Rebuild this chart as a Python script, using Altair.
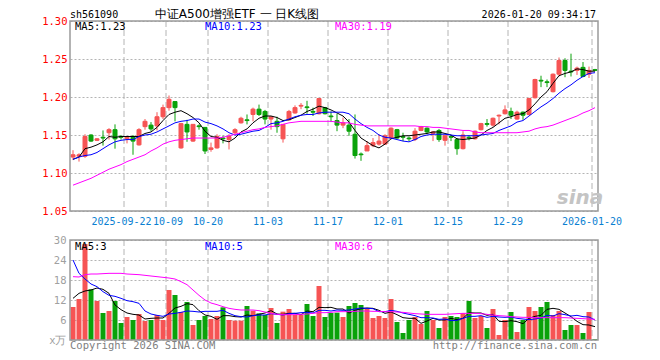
import altair as alt
import pandas as pd

# ---------------- data ----------------
DATES = [
    "2025-09-09", "2025-09-10", "2025-09-11", "2025-09-12", "2025-09-15", "2025-09-16", "2025-09-17", "2025-09-18", "2025-09-19",
    "2025-09-22", "2025-09-23", "2025-09-24", "2025-09-25", "2025-09-26", "2025-09-29", "2025-09-30",
    "2025-10-09", "2025-10-10", "2025-10-13", "2025-10-14", "2025-10-15", "2025-10-16", "2025-10-17",
    "2025-10-20", "2025-10-21", "2025-10-22", "2025-10-23", "2025-10-24",
    "2025-10-27", "2025-10-28", "2025-10-29", "2025-10-30", "2025-10-31",
    "2025-11-03", "2025-11-04", "2025-11-05", "2025-11-06", "2025-11-07",
    "2025-11-10", "2025-11-11", "2025-11-12", "2025-11-13", "2025-11-14",
    "2025-11-17", "2025-11-18", "2025-11-19", "2025-11-20", "2025-11-21",
    "2025-11-24", "2025-11-25", "2025-11-26", "2025-11-27", "2025-11-28",
    "2025-12-01", "2025-12-02", "2025-12-03", "2025-12-04", "2025-12-05",
    "2025-12-08", "2025-12-09", "2025-12-10", "2025-12-11", "2025-12-12",
    "2025-12-15", "2025-12-16", "2025-12-17", "2025-12-18", "2025-12-19",
    "2025-12-22", "2025-12-23", "2025-12-24", "2025-12-25", "2025-12-26",
    "2025-12-29", "2025-12-30", "2025-12-31",
    "2026-01-05", "2026-01-06", "2026-01-07", "2026-01-08", "2026-01-09",
    "2026-01-12", "2026-01-13", "2026-01-14", "2026-01-15", "2026-01-16",
    "2026-01-19", "2026-01-20",
]

OPEN = [1.121, 1.122, 1.122, 1.150, 1.143, 1.147, 1.153, 1.157, 1.148, 1.145,
        1.147, 1.137, 1.161, 1.163, 1.162, 1.174, 1.186, 1.194, 1.133, 1.164,
        1.142, 1.162, 1.160, 1.131, 1.133, 1.146, 1.144, 1.153, 1.166, 1.170,
        1.177, 1.184, 1.181, 1.171, 1.168, 1.145, 1.170, 1.179, 1.188, 1.187,
        1.181, 1.178, 1.186, 1.175, 1.169, 1.163, 1.163, 1.151, 1.125, 1.129,
        1.136, 1.138, 1.138, 1.146, 1.157, 1.148, 1.146, 1.144, 1.156, 1.159,
        1.152, 1.156, 1.143, 1.148, 1.144, 1.132, 1.147, 1.145, 1.157, 1.165,
        1.163, 1.175, 1.178, 1.181, 1.171, 1.180, 1.177, 1.199, 1.222, 1.220,
        1.207, 1.230, 1.248, 1.234, 1.235, 1.239, 1.230, 1.236]
HIGH = [1.130, 1.126, 1.151, 1.151, 1.146, 1.156, 1.159, 1.164, 1.150, 1.148,
        1.150, 1.159, 1.171, 1.167, 1.180, 1.190, 1.202, 1.194, 1.166, 1.170,
        1.164, 1.164, 1.160, 1.140, 1.151, 1.149, 1.151, 1.159, 1.174, 1.177,
        1.186, 1.190, 1.183, 1.174, 1.174, 1.164, 1.183, 1.189, 1.192, 1.195,
        1.186, 1.198, 1.187, 1.181, 1.178, 1.173, 1.171, 1.177, 1.127, 1.142,
        1.146, 1.151, 1.151, 1.160, 1.158, 1.153, 1.148, 1.159, 1.162, 1.160,
        1.155, 1.158, 1.150, 1.150, 1.146, 1.155, 1.150, 1.156, 1.166, 1.171,
        1.173, 1.177, 1.189, 1.186, 1.182, 1.181, 1.199, 1.224, 1.228, 1.223,
        1.231, 1.252, 1.251, 1.257, 1.240, 1.246, 1.240, 1.237]
LOW = [1.117, 1.115, 1.120, 1.141, 1.142, 1.136, 1.144, 1.132, 1.144, 1.139,
       1.124, 1.136, 1.157, 1.155, 1.156, 1.171, 1.182, 1.168, 1.132, 1.141,
       1.141, 1.157, 1.125, 1.128, 1.132, 1.139, 1.131, 1.151, 1.165, 1.164,
       1.168, 1.175, 1.164, 1.157, 1.153, 1.140, 1.169, 1.178, 1.184, 1.178,
       1.175, 1.177, 1.177, 1.167, 1.155, 1.159, 1.149, 1.119, 1.116, 1.129,
       1.134, 1.136, 1.137, 1.145, 1.145, 1.142, 1.142, 1.142, 1.155, 1.152,
       1.142, 1.141, 1.136, 1.142, 1.124, 1.131, 1.143, 1.144, 1.156, 1.161,
       1.161, 1.164, 1.177, 1.171, 1.170, 1.170, 1.176, 1.198, 1.213, 1.213,
       1.206, 1.227, 1.226, 1.227, 1.229, 1.226, 1.225, 1.234]
CLOSE = [1.124, 1.124, 1.148, 1.142, 1.145, 1.146, 1.157, 1.145, 1.147, 1.147,
         1.142, 1.157, 1.168, 1.158, 1.174, 1.186, 1.197, 1.186, 1.165, 1.154,
         1.164, 1.161, 1.129, 1.133, 1.148, 1.145, 1.148, 1.157, 1.172, 1.169,
         1.184, 1.177, 1.171, 1.174, 1.161, 1.164, 1.181, 1.186, 1.189, 1.186,
         1.180, 1.198, 1.178, 1.174, 1.163, 1.166, 1.155, 1.123, 1.124, 1.136,
         1.140, 1.142, 1.149, 1.159, 1.146, 1.147, 1.145, 1.155, 1.161, 1.154,
         1.154, 1.144, 1.149, 1.147, 1.132, 1.150, 1.146, 1.155, 1.165, 1.164,
         1.172, 1.176, 1.183, 1.176, 1.180, 1.176, 1.198, 1.223, 1.221, 1.219,
         1.230, 1.248, 1.235, 1.233, 1.238, 1.227, 1.235, 1.235]

MA5 = [1.118, 1.121, 1.132, 1.134, 1.137, 1.141, 1.148, 1.147, 1.148, 1.148,
       1.148, 1.148, 1.152, 1.154, 1.160, 1.169, 1.177, 1.180, 1.182, 1.178,
       1.173, 1.166, 1.155, 1.148, 1.147, 1.143, 1.141, 1.146, 1.154, 1.158,
       1.166, 1.172, 1.175, 1.175, 1.173, 1.169, 1.170, 1.173, 1.176, 1.181,
       1.184, 1.188, 1.186, 1.183, 1.179, 1.175, 1.167, 1.156, 1.146, 1.141,
       1.136, 1.133, 1.138, 1.145, 1.147, 1.149, 1.149, 1.150, 1.151, 1.152,
       1.154, 1.154, 1.152, 1.150, 1.145, 1.144, 1.145, 1.146, 1.150, 1.156,
       1.160, 1.166, 1.172, 1.174, 1.177, 1.178, 1.183, 1.191, 1.200, 1.207,
       1.218, 1.228, 1.231, 1.233, 1.237, 1.236, 1.234, 1.234]
MA10 = [1.118, 1.121, 1.123, 1.124, 1.127, 1.132, 1.137, 1.141, 1.143, 1.144,
        1.144, 1.148, 1.150, 1.151, 1.154, 1.158, 1.162, 1.166, 1.168, 1.169,
        1.171, 1.171, 1.167, 1.165, 1.162, 1.158, 1.153, 1.150, 1.151, 1.153,
        1.155, 1.156, 1.160, 1.165, 1.166, 1.168, 1.171, 1.174, 1.176, 1.177,
        1.177, 1.179, 1.180, 1.180, 1.180, 1.180, 1.178, 1.171, 1.165, 1.160,
        1.156, 1.150, 1.147, 1.146, 1.144, 1.142, 1.141, 1.144, 1.148, 1.150,
        1.151, 1.151, 1.151, 1.150, 1.149, 1.149, 1.149, 1.149, 1.150, 1.151,
        1.152, 1.156, 1.159, 1.162, 1.167, 1.169, 1.175, 1.181, 1.187, 1.192,
        1.198, 1.205, 1.211, 1.216, 1.222, 1.227, 1.231, 1.232]
MA30 = [1.084, 1.087, 1.090, 1.093, 1.097, 1.101, 1.105, 1.108, 1.111, 1.115,
        1.118, 1.121, 1.124, 1.129, 1.133, 1.138, 1.141, 1.143, 1.144, 1.145,
        1.146, 1.146, 1.146, 1.146, 1.146, 1.147, 1.149, 1.151, 1.153, 1.155,
        1.157, 1.158, 1.160, 1.161, 1.162, 1.164, 1.166, 1.167, 1.168, 1.168,
        1.168, 1.168, 1.168, 1.168, 1.167, 1.166, 1.166, 1.164, 1.163, 1.162,
        1.162, 1.162, 1.162, 1.162, 1.162, 1.162, 1.162, 1.162, 1.161, 1.161,
        1.160, 1.160, 1.159, 1.158, 1.157, 1.156, 1.156, 1.154, 1.153, 1.153,
        1.153, 1.153, 1.153, 1.153, 1.153, 1.154, 1.155, 1.158, 1.160, 1.161,
        1.163, 1.166, 1.169, 1.172, 1.175, 1.179, 1.182, 1.186]

VOLUME = [9.9, 12.3, 28.8, 15.2, 11.7, 8.1, 8.7, 11.7, 5.1, 6.9,
          6.0, 7.8, 5.7, 6.0, 7.5, 6.0, 15.0, 13.5, 8.4, 11.4,
          4.5, 6.0, 7.2, 6.3, 7.2, 9.8, 6.0, 5.8, 5.8, 10.2,
          8.8, 8.0, 7.5, 9.6, 5.1, 8.5, 9.3, 7.5, 7.5, 10.8,
          7.2, 16.2, 6.9, 8.1, 8.2, 6.9, 10.2, 11.1, 10.5, 9.3,
          6.6, 7.2, 6.6, 12.3, 5.4, 2.1, 6.0, 6.9, 4.8, 8.7,
          6.0, 3.6, 6.9, 7.2, 6.9, 8.1, 11.7, 6.6, 7.2, 3.6,
          9.3, 1.5, 6.0, 8.4, 2.4, 6.0, 9.9, 8.7, 9.9, 11.4,
          7.5, 8.7, 3.0, 4.5, 4.5, 2.1, 8.4, 0.3]
VMA5 = [12.5, 14.0, 14.7, 15.0, 15.6, 15.2, 14.0, 10.5, 9.1, 8.1,
        7.7, 7.5, 6.3, 6.5, 6.6, 6.6, 8.0, 9.6, 10.1, 10.9,
        10.6, 8.8, 7.5, 7.1, 6.2, 7.3, 7.3, 7.0, 6.9, 7.5,
        7.3, 7.7, 8.1, 8.8, 7.8, 7.7, 8.0, 8.0, 7.6, 8.7,
        8.5, 9.8, 9.7, 9.8, 9.3, 9.3, 8.1, 8.9, 9.4, 9.6,
        9.5, 8.9, 8.0, 8.4, 7.6, 6.7, 6.5, 6.5, 5.0, 5.7,
        6.5, 6.0, 6.0, 6.5, 6.1, 6.5, 8.2, 8.1, 8.1, 7.4,
        7.7, 5.6, 5.5, 5.8, 5.5, 4.9, 6.5, 7.1, 7.4, 9.2,
        9.5, 9.2, 8.1, 7.0, 5.6, 4.6, 4.5, 4.0]
VMA10 = [24.0, 20.0, 18.3, 16.8, 16.0, 14.5, 13.4, 13.1, 12.5, 11.8,
         11.5, 11.0, 8.7, 7.8, 7.4, 7.1, 7.8, 8.0, 8.3, 8.7,
         8.6, 8.4, 8.6, 8.6, 8.6, 8.9, 8.0, 7.3, 7.0, 6.9,
         7.3, 7.5, 7.5, 7.9, 7.7, 7.5, 7.9, 8.0, 8.2, 8.3,
         8.1, 8.9, 8.9, 8.7, 9.0, 8.9, 9.0, 9.3, 9.6, 9.5,
         9.4, 8.5, 8.5, 8.9, 8.6, 8.1, 7.7, 7.3, 6.7, 6.7,
         6.6, 6.2, 6.3, 5.8, 5.9, 6.5, 7.1, 7.1, 7.3, 6.8,
         7.1, 6.9, 6.8, 6.9, 6.5, 6.3, 6.1, 6.3, 6.6, 7.4,
         7.2, 7.9, 7.6, 7.2, 7.4, 7.0, 6.9, 6.0]
VMA30 = [19.0, 18.9, 19.6, 19.8, 19.8, 19.9, 20.0, 20.0, 20.0, 19.8,
         19.7, 19.6, 19.4, 19.2, 19.0, 18.8, 18.6, 18.3, 17.5, 16.6,
         15.0, 13.4, 12.0, 11.1, 10.6, 10.0, 9.5, 9.2, 9.0, 9.0,
         9.0, 8.8, 8.4, 8.0, 7.7, 7.6, 7.6, 7.6, 7.7, 7.8,
         8.0, 8.2, 8.2, 8.3, 8.5, 8.5, 8.5, 8.6, 8.7, 8.7,
         8.6, 8.6, 8.5, 8.5, 8.4, 8.3, 8.1, 7.9, 7.8, 7.7,
         7.7, 7.7, 7.7, 7.8, 7.9, 8.0, 8.0, 8.0, 7.9, 7.7,
         7.5, 7.3, 7.2, 7.0, 6.9, 6.8, 6.8, 6.7, 6.7, 6.7,
         6.7, 6.7, 6.7, 6.6, 6.5, 6.4, 6.3, 6.2]

LABEL_DATES = ["2025-09-22", "2025-10-09", "2025-10-20", "2025-11-03", "2025-11-17",
               "2025-12-01", "2025-12-15", "2025-12-29", "2026-01-20"]
LABEL_TEXT = ["2025-09-22", "10-09", "10-20", "11-03", "11-17",
              "12-01", "12-15", "12-29", "2026-01-20"]
PRICE_TICKS = [1.05, 1.10, 1.15, 1.20, 1.25, 1.30]
VOL_TICKS = [0, 6, 12, 18, 24, 30]

# ---------------- styling ----------------
W, H = 528, 319
PH = 190            # price panel height
VT, VB = 219, 319   # volume panel top / bottom
RED = "#f65454"
GREEN = "#0aa20a"
MONO = "DejaVu Sans Mono"
FRAME = "#9a9a9a"
GRID = "#b4b4b4"
DATE_BLUE = "#0a7fd2"

df = pd.DataFrame(dict(date=DATES, open=OPEN, high=HIGH, low=LOW, close=CLOSE,
                       vol=VOLUME, ma5=MA5, ma10=MA10, ma30=MA30,
                       vma5=VMA5, vma10=VMA10, vma30=VMA30))
lab = pd.DataFrame(dict(date=LABEL_DATES, label=LABEL_TEXT))

xs = alt.Scale(type="band", domain=DATES, paddingInner=0, paddingOuter=0)
X = alt.X("date:N", scale=xs, axis=None)
py = alt.Scale(domain=[1.05, 1.30], range=[PH, 0], nice=False, zero=False)
vy = alt.Scale(domain=[0, 30], range=[VB, VT], nice=False, zero=False)
UP = "datum.close >= datum.open"


def updown():
    return alt.condition(UP, alt.value(RED), alt.value(GREEN))


base = alt.Chart(df)

price_axis = alt.Axis(values=PRICE_TICKS, format=".2f", labelColor="#ff0000", labelFont=MONO,
                      labelFontSize=10.5, labelPadding=3, ticks=False, domain=False, grid=True,
                      gridDash=[2, 2], gridColor=GRID, title=None, labelFlush=False,
                      labelOverlap=False, orient="left")
vol_axis = alt.Axis(values=VOL_TICKS, labelExpr="datum.value == 0 ? 'x万' : datum.label",
                    labelColor="#a0a0a0", labelFont=MONO, labelFontSize=10.5, labelPadding=4,
                    ticks=False, domain=False, grid=True, gridDash=[2, 2], gridColor=GRID,
                    title=None, labelFlush=False, labelOverlap=False, orient="left")

wick = base.mark_rule(strokeWidth=1).encode(
    x=X, y=alt.Y("low:Q", scale=py, axis=price_axis), y2="high:Q", color=updown())
body = base.mark_bar(width=4, strokeWidth=1).encode(
    x=X, y=alt.Y("open:Q", scale=py), y2="close:Q", color=updown(), stroke=updown())
l5 = base.mark_line(color="#000000", strokeWidth=1).encode(x=X, y=alt.Y("ma5:Q", scale=py))
l10 = base.mark_line(color="#0000ff", strokeWidth=1).encode(x=X, y=alt.Y("ma10:Q", scale=py))
l30 = base.mark_line(color="#ff00ff", strokeWidth=1).encode(x=X, y=alt.Y("ma30:Q", scale=py))
price = alt.layer(wick, body, l5, l10, l30)

vbar = base.mark_bar(width=5).encode(
    x=X, y=alt.Y("vol:Q", scale=vy, axis=vol_axis), y2=alt.datum(0), color=updown())
v5 = base.mark_line(color="#000000", strokeWidth=1).encode(x=X, y=alt.Y("vma5:Q", scale=vy))
v10 = base.mark_line(color="#0000ff", strokeWidth=1).encode(x=X, y=alt.Y("vma10:Q", scale=vy))
v30 = base.mark_line(color="#ff00ff", strokeWidth=1).encode(x=X, y=alt.Y("vma30:Q", scale=vy))
volume = alt.layer(vbar, v5, v10, v30)

# vertical dashed date grid lines (both panels) and date labels
vg1 = alt.Chart(lab).mark_rule(strokeDash=[6, 3], color=GRID, strokeWidth=1, xOffset=-3).encode(
    x=X, y=alt.value(0), y2=alt.value(PH))
vg2 = alt.Chart(lab).mark_rule(strokeDash=[6, 3], color=GRID, strokeWidth=1, xOffset=-3).encode(
    x=X, y=alt.value(VT), y2=alt.value(VB))


def date_text(labels, dx):
    return alt.Chart(lab).transform_filter(
        alt.FieldOneOfPredicate(field="label", oneOf=labels)
    ).mark_text(font=MONO, fontSize=10, color=DATE_BLUE, dx=dx,
                baseline="middle", align="center").encode(
        x=X, y=alt.value(201), text="label:N")


dl_first = date_text([LABEL_TEXT[0]], -5.5)
dl_second = date_text([LABEL_TEXT[1]], -1)
dl_rest = date_text(LABEL_TEXT[2:], -3)

one = alt.Data(values=[{}])


def frame(y0, y1):
    return alt.Chart(one).mark_rect(fillOpacity=0, stroke=FRAME, strokeWidth=1.5).encode(
        x=alt.value(0), x2=alt.value(W), y=alt.value(y0), y2=alt.value(y1))


def txt(s, x, y, color="#000000", align="left", font=MONO, size=10.5, **kw):
    return alt.Chart(one).mark_text(font=font, fontSize=size, color=color, align=align,
                                    baseline="middle", **kw).encode(
        x=alt.value(x), y=alt.value(y), text=alt.value(s))


texts = [
    txt("sh561090", 0, -6.5, size=10),
    txt("中证A500增强ETF 一 日K线图", 167, -7, align="center", font="DejaVu Sans", size=12),
    txt("2026-01-20 09:34:17", W - 2, -6.5, align="right", size=10),
    txt("MA5:1.23", 5, 6),
    txt("MA10:1.23", 135, 6, color="#0000ff"),
    txt("MA30:1.19", 265, 6, color="#ff00ff"),
    txt("MA5:3", 5, 226),
    txt("MA10:5", 135, 226, color="#0000ff"),
    txt("MA30:6", 265, 226, color="#ff00ff"),
    txt("Copyright 2026 SINA.COM", 0, 325, color="#808080"),
    txt("http://finance.sina.com.cn", W - 1, 325, color="#808080", align="right"),
    txt("sina", 510, 177, color="#c4c4c4", font="DejaVu Sans", size=20, fontWeight="bold",
        fontStyle="italic", align="center"),
]

chart = alt.layer(
    vg1, vg2, price, volume, frame(0, PH), frame(VT, VB),
    dl_first, dl_second, dl_rest, *texts
).resolve_scale(y="independent").properties(
    width=W, height=H,
    autosize=alt.AutoSizeParams(type="none"),
    padding={"left": 62, "top": 13, "right": 54, "bottom": 12},
).configure_view(strokeWidth=0)

chart.save("out.html", embed_options={"renderer": "svg", "actions": False})
